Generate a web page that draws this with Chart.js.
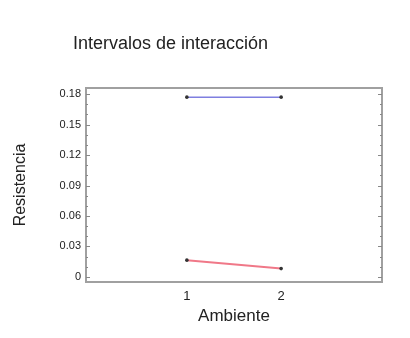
<!DOCTYPE html>
<html>
<head>
<meta charset="utf-8">
<script src="https://cdn.jsdelivr.net/npm/chart.js@4"></script>
<style>
  html, body { margin: 0; padding: 0; background: #fff; }
  #wrap { position: relative; width: 410px; height: 338px; }
  #title { position: absolute; left: 73px; top: 33px; font: 18px "Liberation Sans", Arial, sans-serif; color: #222; }
</style>
</head>
<body>
<div id="wrap">
  <div id="title">Intervalos de interacción</div>
  <canvas id="chart" width="410" height="338"></canvas>
</div>
<script>
const ambiente = [1, 2];
const upper    = [0.177, 0.177];
const lower    = [0.0165, 0.0082];
const yTicks   = [0, 0.03, 0.06, 0.09, 0.12, 0.15, 0.18];
const yMinor   = [0.01, 0.02, 0.04, 0.05, 0.07, 0.08, 0.10, 0.11, 0.13, 0.14, 0.16, 0.17];

const tickFont  = { family: "'Liberation Sans Narrow', 'Arial Narrow', 'Liberation Sans', Arial, sans-serif", size: 11 };
const titleFont = { family: "'Liberation Sans', Arial, sans-serif", size: 17 };

// frame + inward tick marks on both vertical sides
const frame = {
    id: "frame",
    afterDraw(chart) {
        const { ctx, chartArea: a, scales: { y } } = chart;
        ctx.save();
        ctx.strokeStyle = "#a0a0a0";
        ctx.lineWidth = 2;
        ctx.strokeRect(a.left, a.top, a.right - a.left, a.bottom - a.top);
        ctx.lineWidth = 1;
        ctx.strokeStyle = "#888";
        const mark = (v, len) => {
            const p = Math.round(y.getPixelForValue(v)) + 0.5;
            ctx.beginPath();
            ctx.moveTo(a.left, p); ctx.lineTo(a.left + len, p);
            ctx.moveTo(a.right, p); ctx.lineTo(a.right - len, p);
            ctx.stroke();
        };
        yTicks.forEach(v => mark(v, 4));
        yMinor.forEach(v => mark(v, 2));
        ctx.restore();
    }
};

const pts = vals => ambiente.map((x, i) => ({ x, y: vals[i] }));

new Chart(document.getElementById("chart"), {
    type: "scatter",
    data: {
        datasets: [
            { data: pts(upper), showLine: true, borderColor: "#7f7fe0", borderWidth: 1.5,
              pointRadius: 1.8, pointBackgroundColor: "#333", pointBorderWidth: 0 },
            { data: pts(lower), showLine: true, borderColor: "#f07888", borderWidth: 2,
              pointRadius: 1.8, pointBackgroundColor: "#333", pointBorderWidth: 0 }
        ]
    },
    options: {
        responsive: false, animation: false,
        layout: { padding: { top: 88, right: 28, left: 0, bottom: 0 } },
        plugins: { legend: { display: false }, tooltip: { enabled: false } },
        scales: {
            x: {
                type: "linear", min: -0.07, max: 3.07,
                afterBuildTicks: s => { s.ticks = ambiente.map(v => ({ value: v })); },
                afterFit: s => { s.height = 56; },
                grid: { display: false, drawTicks: false }, border: { display: false },
                ticks: { color: "#222", font: { ...tickFont, size: 13 }, padding: 7 },
                title: { display: true, text: "Ambiente", color: "#222", font: titleFont, padding: { top: 0, bottom: 11 } }
            },
            y: {
                min: -0.005, max: 0.186,
                afterBuildTicks: s => { s.ticks = yTicks.map(v => ({ value: v })); },
                afterFit: s => { s.width = 86; },
                grid: { display: false, drawTicks: false }, border: { display: false },
                ticks: { color: "#222", font: tickFont, padding: 5, callback: v => String(v) },
                title: { display: true, text: "Resistencia", color: "#222",
                         font: { ...titleFont, size: 16 }, padding: { top: 11, bottom: 0 } }
            }
        }
    },
    plugins: [frame]
});
</script>
</body>
</html>
